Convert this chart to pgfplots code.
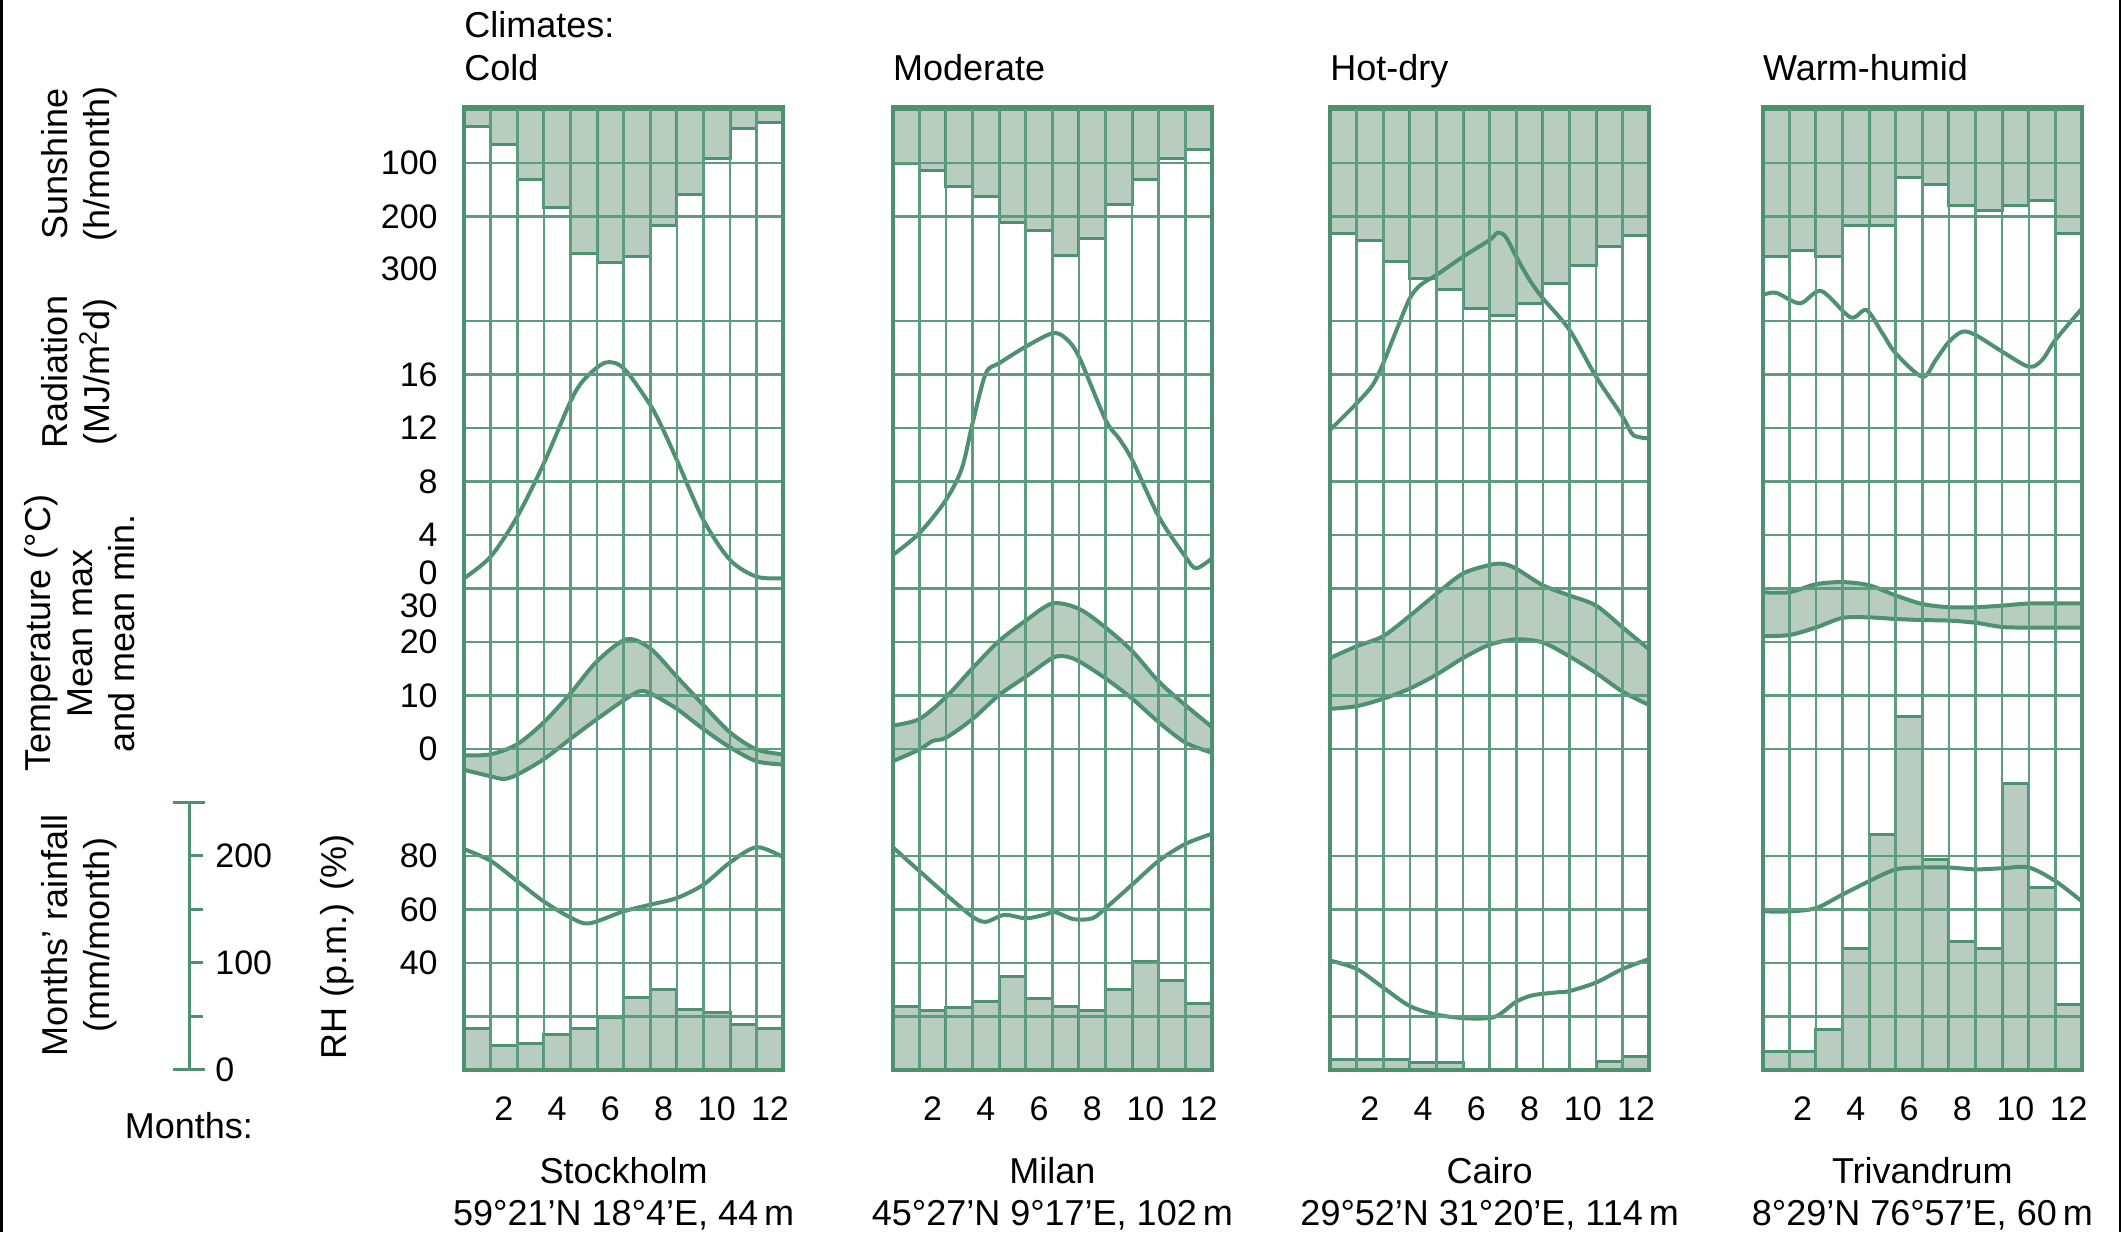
\documentclass[border=0pt]{standalone}
\usepackage{fontspec}
\setmainfont{Liberation Sans}
\usepackage{pgfplots}
\pgfplotsset{compat=1.18}
\usepackage{pgfplotstable}

\definecolor{gline}{HTML}{4D9170}
\definecolor{ggrid}{HTML}{5E9C80}
\definecolor{gfill}{HTML}{B8CCC0}

% ---------------- Stockholm ----------------
\pgfplotstableread{
m S P
1 32 39.2
2 65 22.7
3 130 24.3
4 183 32.8
5 268 38.5
6 286 49.5
7 275 68.2
8 217 74.8
9 159 56.4
10 91 53.4
11 35 42.2
12 24 39.2
}\stoBars
\pgfplotstableread{
x R
0 0.76
1 2.38
2 5.37
3 9.36
4 13.97
4.5 15.59
5.3 16.88
6 16.46
7 13.72
7.5 11.80
8 9.61
9 5.12
10 2.13
11 0.88
12 0.76
}\stoRad
\pgfplotstableread{
x T
0 -1.2
1 -1.0
2 0.9
3 5.0
4 10.4
5 16.4
6.1 20.5
7 18.8
8 13.5
9 8.2
10 3.1
11 -0.1
12 -1.0
}\stoTmax
\pgfplotstableread{
x T
0 -3.9
1 -5.1
1.5 -5.6
2 -4.8
3 -1.9
4 1.9
5 5.6
6 9.1
6.6 10.8
7 10.4
8 7.5
9 3.7
10 0.3
11 -2.3
12 -2.9
}\stoTmin
\pgfplotstableread{
x H
0 82.6
1 78.2
2 70.6
3 63.0
4 57.0
4.7 54.8
6 59.3
7 61.8
8 64.3
9 69.3
10 77.6
11 83.3
12 79.5
}\stoRH

% ---------------- Milan ----------------
\pgfplotstableread{
m S P
1 100 59.1
2 113 55.5
3 143 58.0
4 163 64.4
5 211 87.5
6 226 66.6
7 272 59.6
8 240 55.9
9 178 74.9
10 131 101.3
11 91 84.0
12 74 61.9
}\milBars
\pgfplotstableread{
x R
0 2.50
1 4.13
2 6.62
2.6 8.99
3 12.35
3.5 16.09
4 16.84
5 18.08
6 19.08
6.5 18.71
7 17.33
8 12.60
8.5 11.23
9 9.61
10 5.37
11 2.38
11.4 1.51
12 2.26
}\milRad
\pgfplotstableread{
x T
0 4.4
1 5.6
2 9.7
3 15.1
4 20.2
5 24.0
6 27.2
7 26.2
8 22.7
9 18.3
10 12.6
11 8.2
12 4.1
}\milTmax
\pgfplotstableread{
x T
0 -2.3
1 -0.1
1.5 1.5
2 2.1
3 5.6
4 10.1
5 13.5
6 17.0
6.5 17.3
7 16.4
8 13.2
9 9.4
10 5.0
11 1.2
12 -0.7
}\milTmin
\pgfplotstableread{
x H
0 83.3
1 74.4
2 65.6
3 57.3
3.5 55.4
4.2 58.0
5 56.7
5.7 58.0
6.1 59.0
6.8 56.4
7.5 56.7
8 60.5
9 69.3
10 78.2
11 84.5
12 88.3
}\milRH

% ---------------- Cairo ----------------
\pgfplotstableread{
m S P
1 231 9.5
2 244 9.5
3 284 9.5
4 315 7
5 337 7
6 371 0
7 385 0
8 362 0
9 325 0
10 292 0
11 255 8
12 236 12.5
}\caiBars
\pgfplotstableread{
x R
0 11.85
1 13.84
1.6 15.21
2 16.84
2.5 19.33
3 21.70
3.4 22.69
4 23.44
5 24.81
6 26.06
6.3 26.60
6.6 26.30
7 24.81
7.5 23.07
8 21.70
9 19.33
10 15.83
11 12.84
11.4 11.47
12 11.23
}\caiRad
\pgfplotstableread{
x T
0 17.0
1 19.2
2 21.1
3 24.9
4 29.0
5 32.8
6 34.4
6.5 34.6
7 33.7
8 30.6
9 28.7
10 26.8
11 22.7
12 18.6
}\caiTmax
\pgfplotstableread{
x T
0 7.5
1 8.0
2 9.4
3 11.3
4 13.9
5 17.0
6 19.5
7 20.5
8 19.9
9 17.3
10 14.2
11 10.7
12 8.2
}\caiTmin
\pgfplotstableread{
x H
0 40.9
1 37.8
2 30.8
3 23.9
4 20.7
5 19.4
5.8 19.3
6.3 20.3
7 25.5
7.6 27.9
8.5 29.0
9 29.5
10 32.7
11 37.8
12 41.5
}\caiRH

% ---------------- Trivandrum ----------------
\pgfplotstableread{
m S P
1 275 17.0
2 264 17.0
3 274 38.1
4 217 114.0
5 217 220.1
6 126 330.7
7 139 197.1
8 180 120.3
9 189 114.0
10 180 268.1
11 169 170.8
12 232 61.2
}\triBars
\pgfplotstableread{
x R
0 21.94
0.5 22.11
1.4 21.32
2.2 22.24
3.3 20.27
3.9 20.82
4.5 19.08
5 17.58
6 15.83
6.5 17.08
7 18.45
7.5 19.20
8 18.95
9 17.71
10 16.58
10.5 17.08
11 18.58
12 20.94
}\triRad
\pgfplotstableread{
x T
0 29.3
1 29.3
2 30.8
3 31.2
4 30.6
5 28.7
6 27.1
7 26.5
8 26.5
9 26.8
10 27.2
11 27.2
12 27.2
}\triTmax
\pgfplotstableread{
x T
0 21.1
1 21.3
2 22.7
3 24.5
4 24.6
5 24.3
6 24.1
7 24.0
8 23.6
9 22.8
10 22.7
11 22.7
12 22.7
}\triTmin
\pgfplotstableread{
x H
0 59.3
1 59.3
2 60.5
3 65.6
4 70.6
5 75.0
6 75.7
7 75.7
8 75.0
9 75.4
10 75.7
11 70.6
12 63.0
}\triRH

\pgfplotsset{
  frame/.style={
    scale only axis, width=159.65pt, height=481.5pt, anchor=south west,
    xmin=0, xmax=12,
  },
  panel/.style={
    frame, ymin=0, ymax=18, axis on top,
    axis line style={draw=gline, line width=2pt},
    xtick={0,1,...,12}, xticklabels={},
    ytick={1,2,3,4,6,7,8,9,10,11,12,13,14,15.95,16.95}, yticklabels={},
    grid=major, major grid style={draw=ggrid, line width=1.3pt},
    major tick length=0pt, tick style={draw=none},
    extra x ticks={1.5,3.5,5.5,7.5,9.5,11.5},
    extra x tick labels={2,4,6,8,10,12},
    extra x tick style={grid=none},
    xticklabel style={font=\fontsize{17}{20}\selectfont, anchor=base, yshift=-25.5pt},
  },
  gcurve/.style={smooth, draw=gline, line width=2pt},
  gbar/.style={fill=gfill, draw=gline, line width=1.5pt},
}

\newcommand\panel[6]{%
  % sunshine bars hang from the top: hours axis reversed
  \begin{axis}[frame, at={(#1,81pt)}, axis lines=none, y dir=reverse, ymin=-5, ymax=1795]
    \addplot[gbar, ybar, bar width=1] table[x expr={\thisrow{m}-0.5}, y=S] {#2};
  \end{axis}%
  \begin{axis}[panel, at={(#1,81pt)}]
    % temperature band: area under max, then area under min wiped white
    \addplot[fill=gfill, draw=none, smooth] table[x=x, y expr={6+\thisrow{T}/10}] {#4} \closedcycle;
    \addplot[fill=white, draw=none, smooth] table[x=x, y expr={6+\thisrow{T}/10}] {#5} \closedcycle;
    \addplot[gbar, ybar, bar width=1] table[x expr={\thisrow{m}-0.5}, y expr={\thisrow{P}/50}] {#2};
    \addplot[gcurve] table[x=x, y expr={6+\thisrow{T}/10}] {#4};
    \addplot[gcurve] table[x=x, y expr={6+\thisrow{T}/10}] {#5};
    \addplot[gcurve] table[x=x, y expr={9+\thisrow{R}/4}] {#3};
    \addplot[gcurve] table[x=x, y expr={\thisrow{H}/20}] {#6};
  \end{axis}%
}

\begin{document}
\begin{tikzpicture}[font=\fontsize{18}{21}\selectfont]
\path[use as bounding box] (0,0) rectangle (1060.5pt,616pt);
\fill[black] (0,0) rectangle (1.25pt,616pt);
\fill[black] (1059.25pt,0) rectangle (1060.5pt,616pt);

\panel{232pt}{\stoBars}{\stoRad}{\stoTmax}{\stoTmin}{\stoRH}
\panel{446.35pt}{\milBars}{\milRad}{\milTmax}{\milTmin}{\milRH}
\panel{665pt}{\caiBars}{\caiRad}{\caiTmax}{\caiTmin}{\caiRH}
\panel{881.35pt}{\triBars}{\triRad}{\triTmax}{\triTmin}{\triRH}

\begin{scope}[x=0.5pt, y=-0.5pt, yshift=616pt]
  % top titles
  \node[anchor=base west, inner sep=0] at (464,37.5) {Climates:};
  \node[anchor=base west, inner sep=0] at (464,80.6) {Cold};
  \node[anchor=base west, inner sep=0] at (892.7,80.6) {Moderate};
  \node[anchor=base west, inner sep=0] at (1330,80.6) {Hot-dry};
  \node[anchor=base west, inner sep=0] at (1762.7,80.6) {Warm-humid};
  % bottom names
  \node[anchor=base, inner sep=0] at (623.65,1184) {Stockholm};
  \node[anchor=base, inner sep=0] at (1052.35,1184) {Milan};
  \node[anchor=base, inner sep=0] at (1489.65,1184) {Cairo};
  \node[anchor=base, inner sep=0] at (1922.35,1184) {Trivandrum};
  \node[anchor=base, inner sep=0] at (623.65,1225) {59°21’N 18°4’E, 44\,m};
  \node[anchor=base, inner sep=0] at (1052.35,1225) {45°27’N 9°17’E, 102\,m};
  \node[anchor=base, inner sep=0] at (1489.65,1225) {29°52’N 31°20’E, 114\,m};
  \node[anchor=base, inner sep=0] at (1922.35,1225) {8°29’N 76°57’E, 60\,m};
  % left scale labels
  \begin{scope}[every node/.style={anchor=east, inner sep=0, font=\fontsize{17}{20}\selectfont}]
    \node at (438,163.2) {100};
    \node at (438,216.7) {200};
    \node at (438,268.5) {300};
    \node at (438,374.5) {16};
    \node at (438,428) {12};
    \node at (438,481.5) {8};
    \node at (438,535) {4};
    \node at (438,573) {0};
    \node at (438,606) {30};
    \node at (438,642) {20};
    \node at (438,695.5) {10};
    \node at (438,749) {0};
    \node at (438,856) {80};
    \node at (438,909.5) {60};
    \node at (438,963) {40};
  \end{scope}
  % rotated quantity labels
  \node[rotate=90, align=center] at (79,164) {Sunshine\\(h/month)};
  \node[rotate=90, align=center] at (79,372) {Radiation\\(MJ/m\textsuperscript{2}d)};
  \node[rotate=90, align=center] at (79.5,633) {Temperature (°C)\\Mean max\\and mean min.};
  \node[rotate=90, align=center] at (79,935) {Months’ rainfall\\(mm/month)};
  \node[rotate=90, align=center] at (337.5,947) {RH (p.m.) (\%)};
  \node[anchor=base west, inner sep=0] at (124.5,1138.5) {Months:};
  % rainfall scale
  \draw[gline, line width=1.5pt] (189,1070) -- (189,802.5);
  \draw[gline, line width=1.5pt] (173,1070) -- (205,1070);
  \draw[gline, line width=1.5pt] (173,802.5) -- (205,802.5);
  \foreach \yy in {1016.5,963,909.5,856} \draw[gline, line width=1.5pt] (189,\yy) -- (203,\yy);
  \begin{scope}[every node/.style={anchor=west, inner sep=0, font=\fontsize{17}{20}\selectfont}]
    \node at (215,856) {200};
    \node at (215,963) {100};
    \node at (215,1070) {0};
  \end{scope}
\end{scope}
\end{tikzpicture}
\end{document}
